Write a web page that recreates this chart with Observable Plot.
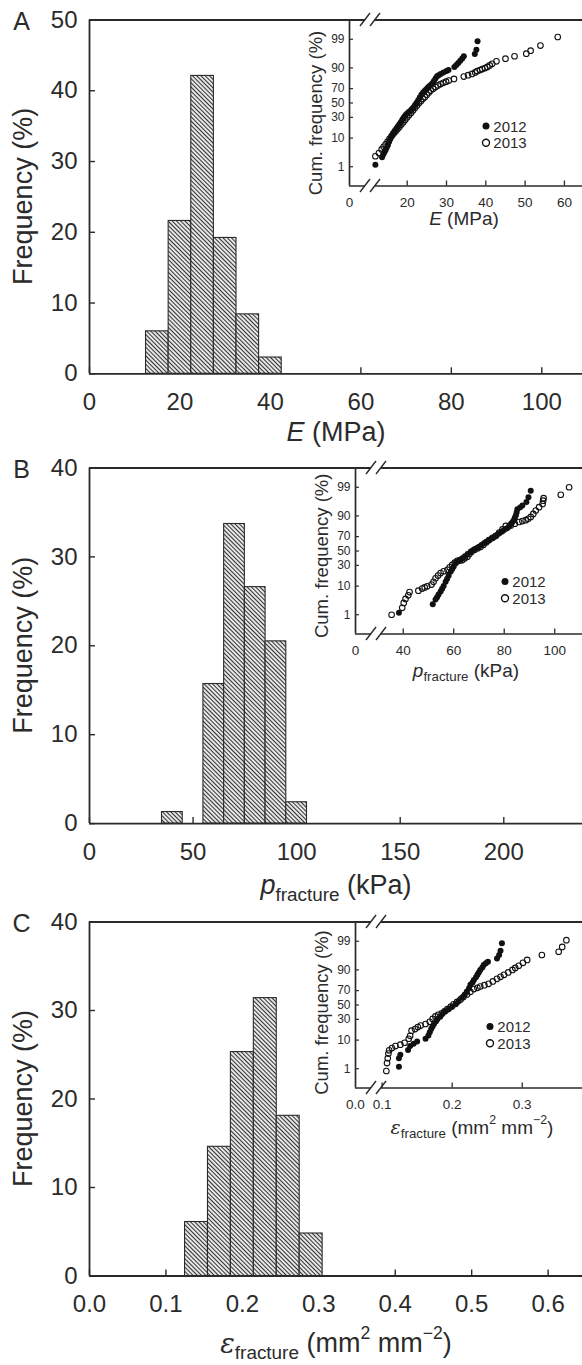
<!DOCTYPE html>
<html><head><meta charset="utf-8">
<script src="https://cdn.jsdelivr.net/npm/d3@7"></script>
<script src="https://cdn.jsdelivr.net/npm/@observablehq/plot@0.6"></script>
<style>
html,body{margin:0;padding:0;background:#fff;}
#root{position:relative;width:582px;height:1365px;overflow:hidden;}
.layer{position:absolute;left:0;}
.layer svg{display:block;overflow:visible;}
</style></head><body><div id="root"></div>
<script>
// ---------- histogram data (frequency %) ----------
const binLoA = [12.5,17.5,22.5,27.5,32.5,37.5];
const binHiA = [17.5,22.5,27.5,32.5,37.5,42.5];
const freqA  = [6.0,21.6,42.1,19.2,8.4,2.3];

const binLoB = [35,55,65,75,85,95];
const binHiB = [45,65,75,85,95,105];
const freqB  = [1.3,15.7,33.7,26.6,20.5,2.4];

const binLoC = [0.125,0.155,0.185,0.215,0.245,0.275];
const binHiC = [0.155,0.185,0.215,0.245,0.275,0.305];
const freqC  = [6.1,14.6,25.3,31.4,18.1,4.8];

// ---------- inset data: value and cumulative frequency (%) ----------
const A2012_x = [11.9,13.6,13.9,14.2,14.5,14.8,15.1,15.4,15.7,16.0,16.3,16.6,16.9,17.2,17.6,18.0,18.4,18.8,19.2,19.6,20.0,20.4,20.8,21.2,21.6,22.0,22.4,22.8,23.2,23.6,24.0,24.4,24.8,25.2,25.6,26.0,26.4,26.8,27.2,27.6,28.0,28.5,29.2,30.0,30.5,32.0,32.5,33.0,33.5,34.0,34.4,37.2,37.6,37.9];
const A2012_p = [1.2,2.4,3.0,3.6,4.3,5.2,6.3,7.8,9.5,11.2,12.8,14.3,15.8,17.4,19.5,22,24.5,27.5,30.5,33,35,37,39,41.5,44,47,50.5,54,58,62,64.5,67,69,71,73,74.5,76.5,79,81.5,83.5,84.5,85.5,86.8,87.8,88.6,90.5,91.8,92.8,93.8,94.8,95.6,96.3,97.4,98.8];
const A2013_x = [11.9,12.8,13.5,14.0,14.5,15.0,15.5,16.0,16.5,17.0,17.5,18.0,18.5,19.0,19.5,20.0,20.5,21.0,21.5,22.0,22.5,23.0,23.5,24.0,24.5,25.0,25.5,26.0,26.6,27.2,27.8,28.5,29.2,29.9,30.6,31.9,34.4,35.5,36.5,37.3,37.8,38.5,39.1,39.8,40.4,41.0,41.6,42.7,45.0,47.3,50.3,51.4,53.9,58.3];
const A2013_p = [2.6,3.4,4.5,5.5,6.6,8.0,9.6,11.2,13,15,17,19,21.5,24,27,30,33,36,39.5,43,46.5,50,53,56,58.5,62,65,67.5,70,72,74,75.5,77,78.2,79.3,81,83.3,84.5,85.6,86.8,87.8,88.5,89.2,89.9,90.6,91.5,92.4,93.6,94.7,95.6,96.4,97.2,98.2,99.2];

const B2012_x = [38.3,51.7,52.8,53.4,54.0,54.8,55.4,56.0,56.8,57.4,58.0,58.8,59.4,60.0,60.8,61.6,62.4,63.4,64.4,65.5,66.7,67.8,68.9,70.0,71.0,72.0,73.0,74.0,75.0,76.0,77.0,77.9,78.8,79.6,80.5,81.3,82.0,82.7,83.3,83.8,84.2,84.6,84.9,85.2,86.3,87.2,88.8,89.6,90.5];
const B2012_p = [1.2,2.6,3.8,4.6,5.6,7.0,8.4,10,13,15.5,18.5,22.7,25.5,28.5,32.7,35,37.5,39.4,42.5,45.5,49,51.5,53.8,56,58.5,61,63.3,65.5,67.5,69.5,71.8,73.8,75.5,77,78.8,80,82,84,85.5,87,88.7,90.3,92,93.6,94.4,95.2,96.3,97.5,98.6];
const B2013_x = [35.4,39.6,40.2,40.9,42.0,42.5,46.0,47.5,48.5,49.5,51.2,52.0,52.8,53.8,54.8,56.0,57.5,58.4,59.4,60.4,61.4,62.4,63.4,64.4,65.4,66.2,67.1,68.3,69.5,70.7,71.8,72.9,74.0,75.4,76.7,78.0,79.3,80.6,82.6,84.2,85.9,87.2,88.5,89.5,90.5,91.5,92.5,93.8,95.2,95.4,95.6,102.4,105.7];
const B2013_p = [1.0,1.9,2.9,4.0,5.3,6.7,7.4,8.5,9.2,9.9,11,13,16,18.5,21,23,24.6,27.5,30.6,33.5,36,36.5,37,39.5,41.8,45.5,49,52,54,56,59,62.5,65.5,68.5,71,75,78.5,82,82.5,84,85.5,86.3,87,88,89.3,91.2,93,94.5,95.7,96.7,97.3,98.0,99.0];

const C2012_x = [0.124,0.124,0.126,0.137,0.140,0.145,0.150,0.162,0.166,0.168,0.170,0.172,0.174,0.177,0.179,0.183,0.186,0.190,0.195,0.200,0.205,0.209,0.214,0.218,0.221,0.224,0.226,0.229,0.231,0.234,0.236,0.238,0.240,0.243,0.245,0.248,0.251,0.264,0.267,0.269,0.271];
const C2012_p = [1.2,2.6,3.5,5.0,6.7,7.9,9.2,10.9,13.3,16,19,21.5,24.5,27.5,30.5,33.5,37,40.5,44,47.5,51,55.5,60.5,65,69,73,77,79.5,82,84.5,86.5,88.3,90,91.5,92.8,93.6,94.3,95.5,96.6,97.6,98.8];
const C2013_x = [0.106,0.107,0.108,0.109,0.110,0.114,0.119,0.126,0.132,0.138,0.140,0.142,0.147,0.151,0.155,0.162,0.168,0.172,0.176,0.180,0.185,0.189,0.193,0.198,0.202,0.207,0.212,0.216,0.221,0.226,0.231,0.236,0.240,0.246,0.252,0.258,0.264,0.269,0.274,0.280,0.286,0.290,0.295,0.301,0.307,0.328,0.352,0.357,0.363];
const C2013_p = [0.8,1.7,2.6,3.8,4.9,5.8,6.7,7.4,8.4,10.9,13,17.4,19,21,22.6,24.4,27,30.5,33.8,36,38,41,44,47.5,51,54.5,58,61.5,65,68.5,72,73.5,75,76.5,78,80.5,83,84.8,86.5,88.3,90,91.2,92.4,93.8,95,96.6,97.4,98.3,99.1];

// tick labels
const cumTicks = [1,10,30,50,70,90,99];
const years = ["2012","2013"];

// ---------- helpers ----------
const FONT = '"Liberation Sans", Arial, Helvetica, sans-serif';
const INK = "#2b2b2b";
const LINE = "#2a2a2a";
function probit(p){
 const a=[-3.969683028665376e+01,2.209460984245205e+02,-2.759285104469687e+02,1.383577518672690e+02,-3.066479806614716e+01,2.506628277459239e+00];
 const b=[-5.447609879822406e+01,1.615858368580409e+02,-1.556989798598866e+02,6.680131188771972e+01,-1.328068155288572e+01];
 const c=[-7.784894002430293e-03,-3.223964580411365e-01,-2.400758277161838e+00,-2.549732539343734e+00,4.374664141464968e+00,2.938163982698783e+00];
 const d=[7.784695709041462e-03,3.224671290700398e-01,2.445134137142996e+00,3.754408661907416e+00];
 const pl=0.02425, ph=1-pl; let q,r;
 if(p<pl){q=Math.sqrt(-2*Math.log(p));return (((((c[0]*q+c[1])*q+c[2])*q+c[3])*q+c[4])*q+c[5])/((((d[0]*q+d[1])*q+d[2])*q+d[3])*q+1);}
 if(p<=ph){q=p-0.5;r=q*q;return (((((a[0]*r+a[1])*r+a[2])*r+a[3])*r+a[4])*r+a[5])*q/(((((b[0]*r+b[1])*r+b[2])*r+b[3])*r+b[4])*r+1);}
 q=Math.sqrt(-2*Math.log(1-p));return -(((((c[0]*q+c[1])*q+c[2])*q+c[3])*q+c[4])*q+c[5])/((((d[0]*q+d[1])*q+d[2])*q+d[3])*q+1);
}
function rich(g, x, y, parts, fs, opts={}){
  const t = g.append("text").attr("x",x).attr("y",y).attr("text-anchor","middle")
    .attr("dominant-baseline","central").attr("font-family",FONT).attr("font-size",fs).attr("fill",INK);
  if(opts.rotate) t.attr("transform",`rotate(-90 ${x} ${y})`);
  let shift = 0;
  for(const p of parts){
    const s = t.append("tspan").text(p.t);
    let target = 0, size = fs;
    if(p.sub){ target = 0.33*fs; size = fs*0.7; }
    if(p.sup){ target = -0.38*fs; size = fs*0.65; }
    s.attr("font-size", size);
    if(target !== shift){ s.attr("dy", target - shift); shift = target; }
    if(p.it) s.attr("font-style","italic");
    if(p.family) s.attr("font-family", p.family);
  }
  return t;
}

const root = d3.select("#root");
const H = 462, TOP = 19.5, LEFT = 89;

function panel(cfg){
  const layer = root.append("div").attr("class","layer").style("top",(cfg.ft-TOP)+"px");
  const fh = cfg.fb - cfg.ft, fw = 582 - LEFT;
  const bars = cfg.lo.map((lo,i)=>({x1:lo, x2:cfg.hi[i], y:cfg.freq[i]}));
  const main = Plot.plot({
    width:582, height:H, marginLeft:LEFT, marginRight:0, marginTop:TOP, marginBottom:H-TOP-fh,
    x:{domain:[0,cfg.xmax]}, y:{domain:[0,cfg.ymax]},
    style:{fontFamily:FONT, background:"transparent", color:INK, overflow:"visible"},
    marks:[
      Plot.tickX(cfg.xticks, {x:d=>d, insetTop:fh-6, stroke:LINE, strokeWidth:1.4}),
      Plot.tickY(cfg.yticks, {y:d=>d, insetRight:fw-6, stroke:LINE, strokeWidth:1.4}),
      Plot.rectY(bars, {x1:"x1", x2:"x2", y:"y", fill:`url(#hatch${cfg.id})`, stroke:LINE, strokeWidth:1.1}),
      Plot.axisX({ticks:cfg.xticks, tickFormat:cfg.xfmt, tickSize:0, tickPadding:19, fontSize:24, label:null}),
      Plot.axisY({ticks:cfg.yticks, tickSize:0, tickPadding:12, fontSize:24, label:null}),
      Plot.ruleX([0], {stroke:LINE, strokeWidth:1.8}),
      Plot.ruleY([0, cfg.ymax], {stroke:LINE, strokeWidth:1.8})
    ]
  });
  const svg = d3.select(main);
  const pat = svg.insert("defs",":first-child").append("pattern").attr("id","hatch"+cfg.id)
    .attr("patternUnits","userSpaceOnUse").attr("width",3).attr("height",3)
    .attr("patternTransform","rotate(-45)");
  pat.append("rect").attr("width",3).attr("height",3).attr("fill","#fff");
  pat.append("line").attr("x1",1.5).attr("y1",0).attr("x2",1.5).attr("y2",3).attr("stroke","#333").attr("stroke-width",1.25);
  // panel letter, y title, x title
  svg.append("text").attr("x",21.5).attr("y",21).attr("text-anchor","middle").attr("dominant-baseline","central")
    .attr("font-family",FONT).attr("font-size",25).attr("fill",INK).text(cfg.letter);
  rich(svg, 23, TOP+fh/2, [{t:"Frequency (%)"}], 27, {rotate:true});
  rich(svg, 336, cfg.titleY, cfg.title, 27);
  layer.node().appendChild(main);

  // ----- inset -----
  const ih = 166, iw = 582 - cfg.inLeft;
  const zTop = 3.03, zBot = -3.03;
  const d12 = cfg.x12.map((x,i)=>({x, z:probit(cfg.p12[i]/100), year:years[0]}));
  const d13 = cfg.x13.map((x,i)=>({x, z:probit(cfg.p13[i]/100), year:years[1]}));
  const zt = cumTicks.map(p=>probit(p/100));
  const x0 = cfg.inDom[0];
  const inset = Plot.plot({
    width:582, height:H, marginLeft:cfg.inLeft, marginRight:0, marginTop:TOP, marginBottom:H-TOP-ih,
    x:{domain:cfg.inDom}, y:{domain:[zBot,zTop]},
    style:{fontFamily:FONT, background:"transparent", color:INK, overflow:"visible"},
    marks:[
      Plot.tickX(cfg.inTicks, {x:d=>d, insetTop:ih-5, stroke:LINE, strokeWidth:1.3}),
      Plot.tickY(zt, {y:d=>d, insetRight:iw-4, stroke:LINE, strokeWidth:1.2}),
      Plot.axisX({ticks:[x0, ...cfg.inTicks], tickFormat:d=> d===x0 ? cfg.inZero : cfg.inFmt(d), tickSize:0, tickPadding:11, fontSize:13.5, label:null}),
      Plot.axisY({ticks:zt, tickFormat:z=>String(cumTicks[zt.findIndex(v=>Math.abs(v-z)<1e-9)]), tickSize:0, tickPadding:5, fontSize:12, label:null}),
      Plot.ruleX([x0], {stroke:LINE, strokeWidth:1.7}),
      Plot.ruleY([zBot, zTop], {stroke:LINE, strokeWidth:1.7}),
      Plot.dot(d12, {x:"x", y:"z", r:3, fill:"#111", stroke:"none"}),
      Plot.dot(d13, {x:"x", y:"z", r:2.8, fill:"none", stroke:"#111", strokeWidth:1.1})
    ]
  });
  const isvg = d3.select(inset);
  // axis breaks on top and bottom lines
  for(const yy of [TOP, TOP+ih]){
    const bx1 = cfg.inLeft + 16, bx2 = cfg.inLeft + 26;
    isvg.append("rect").attr("x",bx1).attr("y",yy-3).attr("width",bx2-bx1).attr("height",6).attr("fill","#fff");
    for(const bx of [bx1,bx2]){
      isvg.append("line").attr("x1",bx-5).attr("y1",yy+6.5).attr("x2",bx+5).attr("y2",yy-6.5)
        .attr("stroke",LINE).attr("stroke-width",1.4);
    }
  }
  // legend
  const lg = cfg.legend;
  years.forEach((yr,i)=>{
    const cy = lg.y + i*16.8;
    const c = isvg.append("circle").attr("cx",lg.x).attr("cy",cy).attr("r",3.5);
    if(i===0) c.attr("fill","#111"); else c.attr("fill","none").attr("stroke","#111").attr("stroke-width",1.4);
    isvg.append("text").attr("x",lg.x+24).attr("y",cy).attr("dominant-baseline","central")
      .attr("font-family",FONT).attr("font-size",15).attr("fill",INK).text(yr);
  });
  rich(isvg, cfg.inLeft-34, cfg.inYLab, [{t:"Cum. frequency (%)"}], 18.5, {rotate:true});
  rich(isvg, cfg.inTitleX, cfg.inTitleY, cfg.inTitle, 19);
  const ilayer = root.append("div").attr("class","layer").style("top",(cfg.ft-TOP)+"px");
  ilayer.node().appendChild(inset);
}

const f1 = d3.format(".1f");
panel({id:"A", letter:"A", ft:19.5, fb:373.3, xmax:109, ymax:50,
  xticks:[0,20,40,60,80,100], yticks:[0,10,20,30,40,50], xfmt:d=>String(d),
  lo:binLoA, hi:binHiA, freq:freqA,
  title:[{t:"E",it:true},{t:" (MPa)"}], titleY:432,
  inLeft:349, inDom:[5.32,64.6], inTicks:[20,30,40,50,60], inZero:"0", inFmt:d=>String(d),
  x12:A2012_x, p12:A2012_p, x13:A2013_x, p13:A2013_p,
  legend:{x:486, y:126}, inYLab:113, inTitleX:464, inTitleY:218,
  inTitle:[{t:"E",it:true},{t:" (MPa)"}]});

panel({id:"B", letter:"B", ft:467.7, fb:823.3, xmax:238, ymax:40,
  xticks:[0,50,100,150,200], yticks:[0,10,20,30,40], xfmt:d=>String(d),
  lo:binLoB, hi:binHiB, freq:freqB,
  title:[{t:"p",it:true},{t:"fracture",sub:true},{t:" (kPa)"}], titleY:436.8,
  inLeft:355, inDom:[21.1,111], inTicks:[40,60,80,100], inZero:"0", inFmt:d=>String(d),
  x12:B2012_x, p12:B2012_p, x13:B2013_x, p13:B2013_p,
  legend:{x:505, y:133.5}, inYLab:107.8, inTitleX:466, inTitleY:221.8,
  inTitle:[{t:"p",it:true},{t:"fracture",sub:true},{t:" (kPa)"}]});

panel({id:"C", letter:"C", ft:921.7, fb:1275.7, xmax:0.645, ymax:40,
  xticks:[0,0.1,0.2,0.3,0.4,0.5,0.6], yticks:[0,10,20,30,40], xfmt:f1,
  lo:binLoC, hi:binHiC, freq:freqC,
  title:[{t:"ε",it:true,family:"DejaVu Serif"},{t:"fracture",sub:true},{t:" (mm"},{t:"2",sup:true},{t:" mm"},{t:"−2",sup:true},{t:")"}], titleY:440.8,
  inLeft:355, inDom:[0.062,0.386], inTicks:[0.1,0.2,0.3], inZero:"0.0", inFmt:f1,
  x12:C2012_x, p12:C2012_p, x13:C2013_x, p13:C2013_p,
  legend:{x:490, y:124.5}, inYLab:110.5, inTitleX:472, inTitleY:225,
  inTitle:[{t:"ε",it:true,family:"DejaVu Serif"},{t:"fracture",sub:true},{t:" (mm"},{t:"2",sup:true},{t:" mm"},{t:"−2",sup:true},{t:")"}]});
</script></body></html>
